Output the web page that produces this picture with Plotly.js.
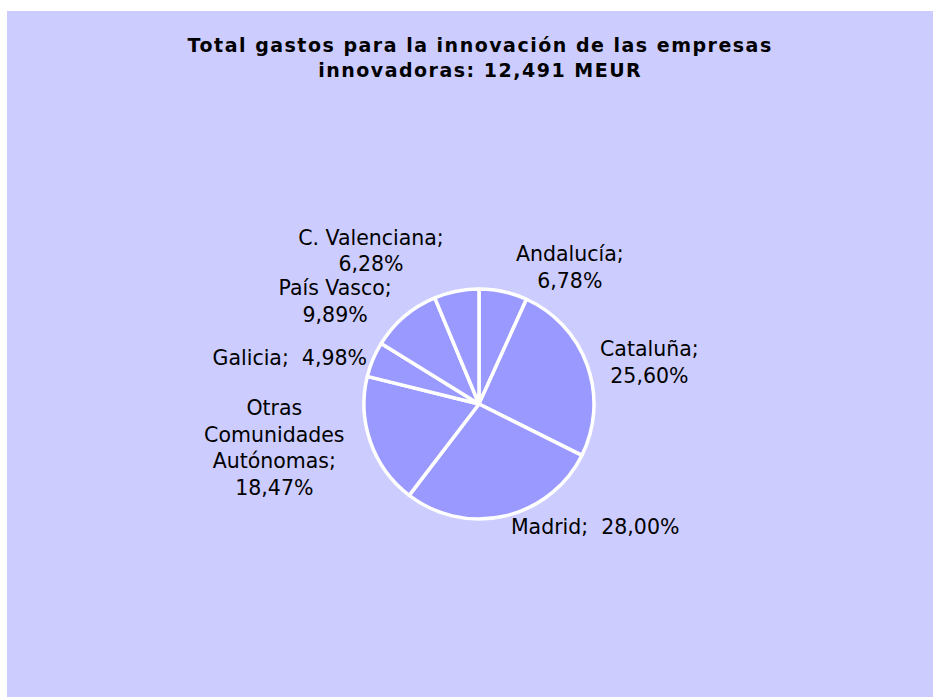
<!DOCTYPE html>
<html>
<head>
<meta charset="utf-8">
<script src="https://cdn.plot.ly/plotly-3.0.1.min.js"></script>
<style>
  html, body { margin: 0; padding: 0; background: #ffffff; }
  #chart { position: absolute; left: 7px; top: 11px; width: 926px; height: 686px; }
  /* el original usa una fuente tipo Verdana, más ancha */
  #chart .gtitle { letter-spacing: 1.5px; }
  #chart path.textline { display: none; }
</style>
</head>
<body>
<div id="chart"></div>
<script>
// Gastos en innovación por comunidad autónoma (% del total)
const regiones = ['Andalucía', 'Cataluña', 'Madrid', 'Otras Comunidades Autónomas', 'Galicia', 'País Vasco', 'C. Valenciana'];
const porcentajes = [6.78, 25.60, 28.00, 18.47, 4.98, 9.89, 6.28];
const tituloTexto = 'Total gastos para la innovación de las empresas<br>innovadoras: 12,491 MEUR';

// etiqueta con salto de línea como en el original
const etiquetas = regiones.map((r) => {
    if (r === 'Otras Comunidades Autónomas') return 'Otras<br>Comunidades<br>Autónomas;<br>';
    if (r === 'Galicia' || r === 'Madrid') return r + ';  ';
    return r + ';<br>';
});

const fuente = 'DejaVu Sans, Verdana, sans-serif';

const trace = {
    type: 'pie',
    labels: regiones,
    values: porcentajes,
    text: etiquetas,
    sort: false,
    direction: 'clockwise',
    rotation: 0,
    texttemplate: '%{text}%{value:.2f}%',
    textposition: 'outside',
    outsidetextfont: { family: fuente, size: 20.5, color: '#000000' },
    marker: {
        colors: regiones.map(() => '#9999ff'),
        line: { color: '#ffffff', width: 3.5 }
    },
    domain: { x: [0.3855, 0.6339], y: [0.2595, 0.5948] },
    hoverinfo: 'label+percent',
    showlegend: false
};

const layout = {
    width: 926,
    height: 686,
    paper_bgcolor: '#ccccff',
    plot_bgcolor: '#ccccff',
    separators: ',.',
    margin: { l: 0, r: 0, t: 0, b: 0 },
    title: {
        text: tituloTexto,
        font: { family: fuente, size: 19, color: '#000000', weight: 'bold' },
        x: 0.511,
        xanchor: 'center',
        y: 0.94,
        yanchor: 'top'
    }
};

Plotly.newPlot('chart', [trace], layout, { displayModeBar: false, staticPlot: true });
</script>
</body>
</html>
